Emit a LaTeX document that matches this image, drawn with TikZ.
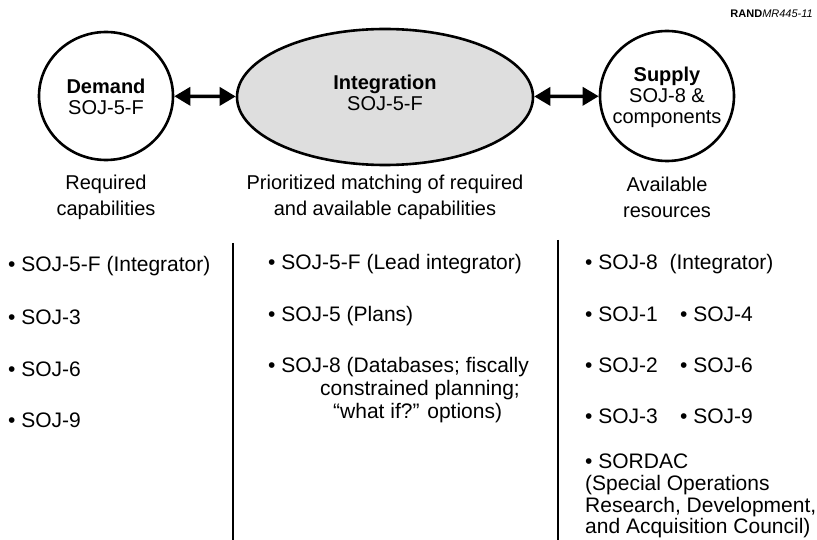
\documentclass[tikz,border=0pt]{standalone}
\usepackage{fontspec}
\setmainfont{Liberation Sans}
\usetikzlibrary{arrows.meta,shapes.geometric}
\definecolor{bubblegray}{RGB}{222,222,222}
\newcommand*{\bodyfont}{\fontsize{20}{26}\selectfont}
\newcommand*{\listfont}{\fontsize{21}{23}\selectfont}
\newcommand*{\bubblefont}{\fontsize{20}{21}\selectfont}
\newcommand*{\tagfont}{\fontsize{11}{13}\selectfont}
\tikzset{
   bubble/.style   = {draw, ellipse, line width=2.6pt, inner sep=0pt},
   twoway/.style   = {line width=3.5pt,
                      {Triangle[length=16pt,width=18pt]}-{Triangle[length=16pt,width=18pt]}},
   divider/.style  = {line width=1.3pt},
   entry/.style    = {anchor=base west, inner sep=0pt, font=\listfont},
   caption/.style  = {align=center, inner sep=0pt, font=\bodyfont},
   inside/.style   = {align=center, inner sep=0pt, font=\bubblefont},
}

\begin{document}
\begin{tikzpicture}[x=1pt, y=-1pt]
   \useasboundingbox (0,0) rectangle (817,540);

   % tag in the corner
   \node[anchor=base east, inner sep=0pt, font=\tagfont] (tag) at (813,18)
      {\textbf{RAND}\textit{MR445-11}};

   % the three bubbles
   \node[bubble, minimum width=134pt, minimum height=128pt] (dem)   at (106,96) {};
   \node[bubble, fill=bubblegray,
         minimum width=296pt, minimum height=136pt]          (integ) at (385,97) {};
   \node[bubble, minimum width=134pt, minimum height=130pt] (sup)   at (667,96) {};

   \node[inside] (demtxt)   at (106,97) {\textbf{Demand}\\SOJ-5-F};
   \node[inside] (integtxt) at (385,93) {\textbf{Integration}\\SOJ-5-F};
   \node[inside] (suptxt)   at (667,97) {\textbf{Supply}\\SOJ-8 \&\\components};

   \draw[twoway] (dem) -- (integ);
   \draw[twoway] (integ) -- (sup);

   % captions under the bubbles
   \node[caption] (demcap)   at (106,197) {Required\\capabilities};
   \node[caption] (integcap) at (385,197) {Prioritized matching of required\\and available capabilities};
   \node[caption] (supcap)   at (667,197) {Available\\resources};

   % column dividers
   \coordinate (divAtop) at (233,243);
   \coordinate (divAbot) at (233,540);
   \coordinate (divBtop) at (558,240);
   \coordinate (divBbot) at (558,540);
   \draw[divider] (divAtop) -- (divAbot);
   \draw[divider] (divBtop) -- (divBbot);

   % demand column
   \node[entry] (dA) at (8,272) {\textbullet\ SOJ-5-F (Integrator)};
   \node[entry] (dB) at (8,324) {\textbullet\ SOJ-3};
   \node[entry] (dC) at (8,376) {\textbullet\ SOJ-6};
   \node[entry] (dD) at (8,427) {\textbullet\ SOJ-9};

   % integration column
   \node[entry] (iA) at (268,270) {\textbullet\ SOJ-5-F (Lead integrator)};
   \node[entry] (iB) at (268,321) {\textbullet\ SOJ-5 (Plans)};
   \node[entry] (iC) at (268,372) {\textbullet\ SOJ-8 (Databases; fiscally};
   \node[entry] (iD) at (320,395) {constrained planning;};
   \node[entry] (iE) at (333,418) {“what if?” options)};

   % supply column
   \node[entry] (sA) at (585,270) {\textbullet\ SOJ-8\ \ (Integrator)};
   \node[entry] (sB) at (585,321) {\textbullet\ SOJ-1};
   \node[entry] (sC) at (680,321) {\textbullet\ SOJ-4};
   \node[entry] (sD) at (585,372) {\textbullet\ SOJ-2};
   \node[entry] (sE) at (680,372) {\textbullet\ SOJ-6};
   \node[entry] (sF) at (585,423) {\textbullet\ SOJ-3};
   \node[entry] (sG) at (680,423) {\textbullet\ SOJ-9};
   \node[entry] (sH) at (585,468) {\textbullet\ SORDAC};
   \node[entry] (sI) at (585,490) {(Special Operations};
   \node[entry] (sJ) at (585,512) {Research, Development,};
   \node[entry] (sK) at (585,533) {and Acquisition Council)};
\end{tikzpicture}
\end{document}
